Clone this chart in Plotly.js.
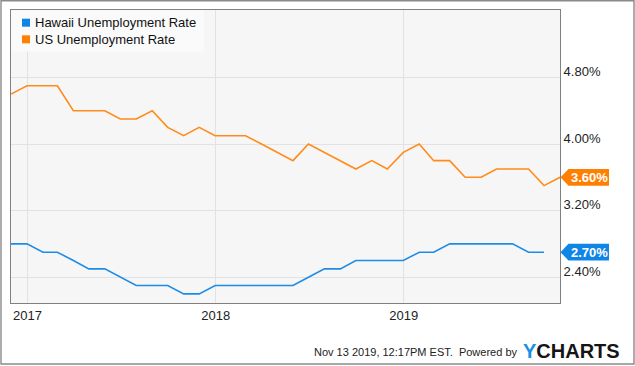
<!DOCTYPE html>
<html>
<head>
<meta charset="utf-8">
<script src="https://cdn.plot.ly/plotly-3.0.1.min.js"></script>
<style>
  html, body { margin: 0; padding: 0; background: #ffffff; }
  #chart { width: 635px; height: 366px; }
</style>
</head>
<body>
<div id="chart"></div>
<script>
// ---- data (monthly values, plotted at month end) ----
const dates = [
  '2016-11-30','2016-12-31',
  '2017-01-31','2017-02-28','2017-03-31','2017-04-30','2017-05-31','2017-06-30',
  '2017-07-31','2017-08-31','2017-09-30','2017-10-31','2017-11-30','2017-12-31',
  '2018-01-31','2018-02-28','2018-03-31','2018-04-30','2018-05-31','2018-06-30',
  '2018-07-31','2018-08-31','2018-09-30','2018-10-31','2018-11-30','2018-12-31',
  '2019-01-31','2019-02-28','2019-03-31','2019-04-30','2019-05-31','2019-06-30',
  '2019-07-31','2019-08-31','2019-09-30','2019-10-31'
];
const hawaiiRate = [
  2.8, 2.8,
  2.7, 2.7, 2.6, 2.5, 2.5, 2.4, 2.3, 2.3, 2.3, 2.2, 2.2, 2.3,
  2.3, 2.3, 2.3, 2.3, 2.3, 2.4, 2.5, 2.5, 2.6, 2.6, 2.6, 2.6,
  2.7, 2.7, 2.8, 2.8, 2.8, 2.8, 2.8, 2.7, 2.7, null
];
const usRate = [
  4.6, 4.7,
  4.7, 4.7, 4.4, 4.4, 4.4, 4.3, 4.3, 4.4, 4.2, 4.1, 4.2, 4.1,
  4.1, 4.1, 4.0, 3.9, 3.8, 4.0, 3.9, 3.8, 3.7, 3.8, 3.7, 3.9,
  4.0, 3.8, 3.8, 3.6, 3.6, 3.7, 3.7, 3.7, 3.5, 3.6
];
const seriesNames = ['Hawaii Unemployment Rate', 'US Unemployment Rate'];
const yTickVals = [2.4, 3.2, 4.0, 4.8];
const yTickText = ['2.40%', '3.20%', '4.00%', '4.80%'];
const footerText = 'Nov 13 2019, 12:17PM EST.&nbsp; Powered by';

// ---- styling ----
const FONT = 'Liberation Sans, Arial, Helvetica, sans-serif';
const lineColors = ['#1e8ce6', '#ff8c1a'];
const tagColors = ['#0f86e6', '#ff7f00'];

const FW = 635, FH = 366;
const M = {l: 11, r: 75, t: 10, b: 63};
const W = FW - M.l - M.r;   // plot width px
const H = FH - M.t - M.b;   // plot height px
const yRange = [2.09, 5.61];
const xRange = ['2016-11-30', '2019-10-31'];

const px2x = p => (p - M.l) / W;            // figure px -> paper x
const px2y = p => (M.t + H - p) / H;        // figure px -> paper y
const pxDy = p => p * (yRange[1] - yRange[0]) / H; // px -> data units (y)

function lastValid(arr) {
  for (let i = arr.length - 1; i >= 0; i--) if (arr[i] !== null) return arr[i];
  return null;
}

const traces = [
  {x: dates, y: hawaiiRate, name: seriesNames[0], type: 'scatter', mode: 'lines',
   line: {color: lineColors[0], width: 1.6}, connectgaps: false, hoverinfo: 'skip', showlegend: false},
  {x: dates, y: usRate, name: seriesNames[1], type: 'scatter', mode: 'lines',
   line: {color: lineColors[1], width: 1.6}, hoverinfo: 'skip', showlegend: false}
];

const shapes = [];
const annotations = [];

// legend background
shapes.push({type: 'rect', xref: 'paper', yref: 'paper', layer: 'above',
  x0: px2x(11), x1: px2x(204), y0: px2y(51.5), y1: px2y(10),
  fillcolor: '#fafafa', line: {width: 0}});

// legend entries
const legendY = [22.7, 39.3];
seriesNames.forEach((nm, i) => {
  shapes.push({type: 'rect', xref: 'paper', yref: 'paper', layer: 'above',
    x0: px2x(22), x1: px2x(30), y0: px2y(legendY[i] + 4), y1: px2y(legendY[i] - 4),
    fillcolor: tagColors[i], line: {width: 0}});
  annotations.push({xref: 'paper', yref: 'paper', x: px2x(33), y: px2y(legendY[i]),
    xanchor: 'left', yanchor: 'middle', showarrow: false, text: nm,
    font: {family: FONT, size: 13, color: '#111111'}});
});

// last value tags
const lastVals = [lastValid(hawaiiRate), lastValid(usRate)];
lastVals.forEach((v, i) => {
  const h = pxDy(8.4);
  const a = 1 + 0.5 / W, b = 1 + 8.5 / W, c = 1 + 49 / W;
  shapes.push({type: 'path', xref: 'paper', yref: 'y', layer: 'above',
    path: `M ${a} ${v} L ${b} ${v + h} L ${c} ${v + h} L ${c} ${v - h} L ${b} ${v - h} Z`,
    fillcolor: tagColors[i], line: {width: 0}});
  annotations.push({xref: 'paper', yref: 'y', x: 1 + 29 / W, y: v,
    xanchor: 'center', yanchor: 'middle', showarrow: false,
    text: '<b>' + v.toFixed(2) + '%</b>',
    font: {family: FONT, size: 13, color: '#ffffff'}});
});

// outer border
shapes.push({type: 'rect', xref: 'paper', yref: 'paper', layer: 'above',
  x0: px2x(1), x1: px2x(634), y0: px2y(364), y1: px2y(0.7),
  fillcolor: 'rgba(0,0,0,0)', line: {color: '#8a8a8a', width: 1.4}});

// footer
annotations.push({xref: 'paper', yref: 'paper', x: px2x(520), y: px2y(352),
  xanchor: 'right', yanchor: 'middle', showarrow: false, text: footerText,
  font: {family: FONT, size: 11, color: '#222222'}});
annotations.push({xref: 'paper', yref: 'paper', x: px2x(521), y: px2y(350.5),
  xanchor: 'left', yanchor: 'middle', showarrow: false,
  text: '<span style="color:#1a8fe6">Y</span>CHARTS',
  font: {family: FONT, size: 20, color: '#151515', weight: 'bold'}});

const layout = {
  width: FW, height: FH,
  margin: M,
  paper_bgcolor: '#ffffff',
  plot_bgcolor: '#f6f6f6',
  showlegend: false,
  font: {family: FONT, size: 13, color: '#222222'},
  xaxis: {
    type: 'date', range: xRange,
    tick0: '2017-01-01', dtick: 'M12', tickformat: '%Y',
    showgrid: true, gridcolor: '#e2e2e2', gridwidth: 1,
    showline: true, linecolor: '#808080', linewidth: 1, mirror: true,
    ticks: '', zeroline: false, fixedrange: true,
    tickfont: {family: FONT, size: 13, color: '#222222'}
  },
  yaxis: {
    side: 'right', range: yRange,
    tickvals: yTickVals, ticktext: yTickText,
    showgrid: true, gridcolor: '#e2e2e2', gridwidth: 1,
    showline: true, linecolor: '#808080', linewidth: 1, mirror: true,
    ticks: '', zeroline: false, fixedrange: true,
    ticklabelshift: -6,
    tickfont: {family: FONT, size: 13, color: '#222222'}
  },
  shapes: shapes,
  annotations: annotations
};

Plotly.newPlot('chart', traces, layout, {staticPlot: true, displayModeBar: false});
</script>
</body>
</html>
